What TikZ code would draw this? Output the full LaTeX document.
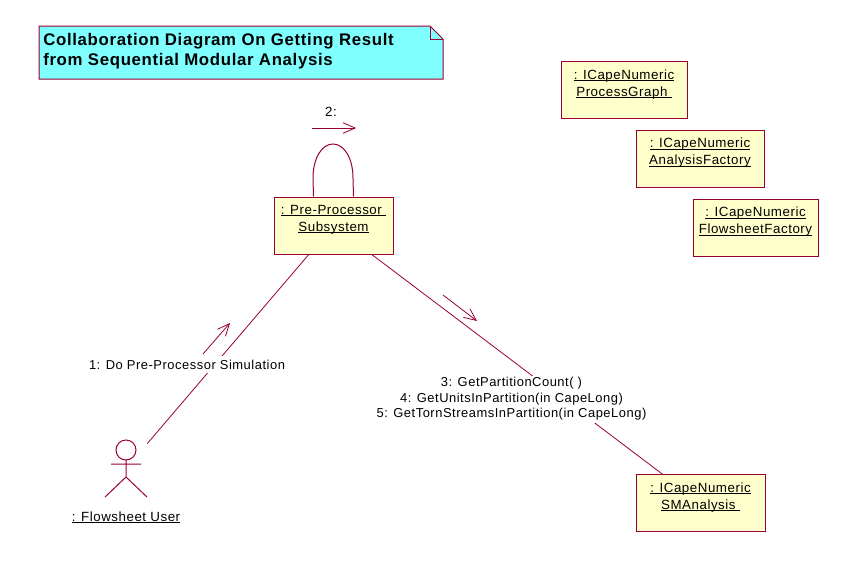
\documentclass[tikz,border=0pt]{standalone}
\usepackage{fontspec}
\setmainfont[LetterSpace=4]{Liberation Sans}
\usepackage{tikz}
\usetikzlibrary{arrows.meta,positioning}
\definecolor{primary}{RGB}{153,0,51}
\definecolor{objfill}{RGB}{255,255,204}
\definecolor{notefill}{RGB}{128,255,255}
\newcommand{\uln}[1]{\sbox0{#1}\leavevmode\rlap{\rule[-1.2pt]{\wd0}{0.55pt}}\box0}
\newcommand{\objlabel}[2]{\uln{#1}\\\uln{#2}\\[-6pt]\strut}
\tikzset{
  objbox/.style={draw=primary,fill=objfill,line width=0.75pt,minimum height=42.75pt,inner sep=0pt,align=center,font=\fontsize{10}{12.75}\selectfont},
  msglabel/.style={fill=white,inner sep=0pt,align=center,font=\fontsize{9.7}{11.6}\selectfont},
  link/.style={draw=primary,line width=0.6pt},
  msgarrow/.style={primary,line width=0.6pt,-{Straight Barb[length=9pt,width=8pt]}}
}
\begin{document}
\begin{tikzpicture}[x=0.75pt,y=-0.75pt]
\useasboundingbox (0,0) rectangle (858,568);
% title note
\draw[primary,fill=notefill,line width=0.75pt] (39,26) -- (430,26) -- (443,39) -- (443,79) -- (39,79) -- cycle;
\draw[primary,line width=0.6pt] (430,26) -- (430,39) -- (443,39);
\node[anchor=west,align=left,inner sep=0pt,font=\fontsize{12.6}{15.4}\selectfont\bfseries] (title) at (43,51) {Collaboration Diagram On Getting Result\\from Sequential Modular Analysis};
% objects
\node[objbox,minimum width=89.25pt] (pre) at (333.5,225.5) {\objlabel{: Pre-Processor\ }{Subsystem}};
\node[objbox,minimum width=94.5pt] (graph) at (624,90) {\objlabel{: ICapeNumeric}{ProcessGraph\ }};
\node[objbox,minimum width=96pt] (analysis) at (700,158.5) {\objlabel{: ICapeNumeric}{AnalysisFactory}};
\node[objbox,minimum width=93.75pt] (sheet) at (755.5,227.5) {\objlabel{: ICapeNumeric}{FlowsheetFactory}};
\node[objbox,minimum width=96.75pt] (sm) at (700.5,503) {\objlabel{: ICapeNumeric}{SMAnalysis\ }};
% actor
\node[minimum width=31.5pt,minimum height=42.75pt,inner sep=0pt] (user) at (126,468.5) {};
\draw[primary,line width=0.75pt] (126,450) circle (10);
\draw[primary,line width=0.75pt] (111,464) -- (141,464) (126,460) -- (126,477) (105,497) -- (126,477) -- (147,497);
\node[font=\fontsize{10}{12}\selectfont,inner sep=0pt] (userlabel) at (126,517) {\uln{: Flowsheet User}};
% links
\draw[link] (user) -- (pre);
\draw[link] (pre) -- (sm);
\draw[primary,line width=0.75pt] ([xshift=-15pt]pre.north) -- (313,178) .. controls (313,158) and (322,144) .. (333,144) .. controls (344,144) and (353,158) .. (353,178) -- ([xshift=15pt]pre.north);
% messages
\node[msglabel,minimum height=12.75pt] (msg1) at (187,364.5) {1: Do Pre-Processor Simulation};
\node[msglabel,minimum height=35.25pt] (msg3) at (511.5,399) {3: GetPartitionCount( )\\4: GetUnitsInPartition(in CapeLong)\\5: GetTornStreamsInPartition(in CapeLong)};
\node[font=\fontsize{10}{12}\selectfont,inner sep=0pt] (msg2) at (331,112) {2:};
\coordinate (a1) at (203,354);
\coordinate (b1) at (230,323);
\coordinate (a2) at (312,128);
\coordinate (b2) at (356,128);
\coordinate (a3) at (443,295);
\coordinate (b3) at (477,321);
\draw[msgarrow] (a1) -- (b1);
\draw[msgarrow] (a2) -- (b2);
\draw[msgarrow] (a3) -- (b3);
\end{tikzpicture}
\end{document}
